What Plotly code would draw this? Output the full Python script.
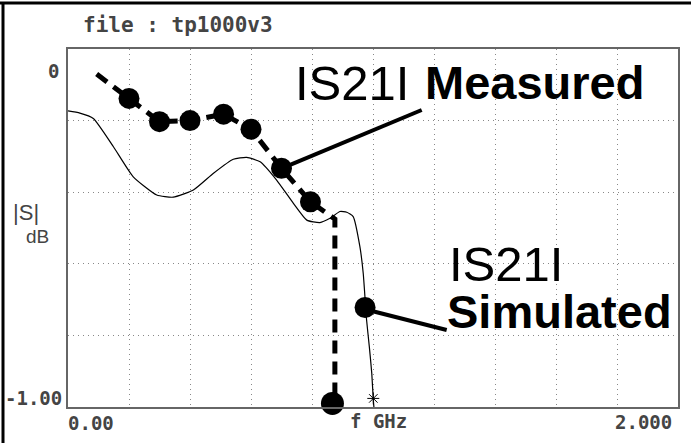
import plotly.graph_objects as go

# ---- data ----
meas_f = [0.094, 0.200, 0.300, 0.400, 0.510, 0.600, 0.700, 0.795, 0.875, 0.875, 0.867]
meas_db = [-0.070, -0.138, -0.203, -0.200, -0.182, -0.224, -0.333, -0.427, -0.475, -0.985, -0.990]
meas_marker = [0, 21, 21, 21, 21, 21, 21, 21, 0, 0, 23]

sim_f = [0.000, 0.039, 0.083, 0.149, 0.214, 0.291, 0.345, 0.411, 0.477, 0.542, 0.586,
         0.630, 0.684, 0.739, 0.783, 0.826, 0.859, 0.892, 0.914, 0.935, 0.957, 0.968,
         0.979, 0.988, 0.996, 1.001, 1.003]
sim_db = [-0.173, -0.179, -0.194, -0.273, -0.357, -0.408, -0.414, -0.394, -0.347, -0.308, -0.303,
          -0.315, -0.366, -0.431, -0.478, -0.485, -0.473, -0.454, -0.456, -0.468, -0.552, -0.627,
          -0.757, -0.832, -0.906, -0.980, -1.000]

sim_marker_f = [0.974]
sim_marker_db = [-0.722]
end_marker_f = [1.001]
end_marker_db = [-0.976]

x_ticks = [i * 0.2 for i in range(11)]
y_ticks = [-1.0 + i * 0.2 for i in range(6)]

# ---- layout helpers (pixel -> paper) ----
L, R, T, B = 68, 678, 49, 407
def px(x):
    return (x - L) / (R - L)
def py(y):
    return (B - y) / (B - T)

fig = go.Figure()
fig.add_trace(go.Scatter(
    x=sim_f, y=sim_db, mode="lines",
    line=dict(color="black", width=1.2, shape="spline", smoothing=0.5),
    hoverinfo="skip", showlegend=False))
fig.add_trace(go.Scatter(
    x=meas_f, y=meas_db, mode="lines+markers",
    line=dict(color="black", width=5, dash="13px,8px"),
    marker=dict(color="black", size=meas_marker, opacity=1, line=dict(width=0)),
    cliponaxis=False, showlegend=False))
fig.add_trace(go.Scatter(
    x=sim_marker_f, y=sim_marker_db, mode="markers",
    marker=dict(color="black", size=21, line=dict(width=0)), showlegend=False))
fig.add_trace(go.Scatter(
    x=end_marker_f, y=end_marker_db, mode="markers",
    marker=dict(color="black", size=10, symbol="asterisk-open", line=dict(width=1, color="#333")),
    showlegend=False))

axis_common = dict(showticklabels=False, showline=True, mirror=True, linecolor="#666",
                   linewidth=1.5, zeroline=False, showgrid=True, gridcolor="#888",
                   griddash="1px,4px", gridwidth=1, ticks="")
fig.update_xaxes(range=[0, 2], tickvals=x_ticks, **axis_common)
fig.update_yaxes(range=[-1, 0], tickvals=y_ticks, **axis_common)

ann = []
def text(x, y, t, size, family, color="#444", xanchor="center", bold=False, height=None):
    a = dict(x=px(x), y=py(y), xref="paper", yref="paper", text=(f"<b>{t}</b>" if bold else t),
             showarrow=False, xanchor=xanchor, yanchor="middle",
             font=dict(size=size, family=family, color=color))
    if height:
        a["height"] = height
    ann.append(a)

text(178, 25, "file : tp1000v3", 21, "DejaVu Sans Mono", bold=True)
text(53, 71, "0", 19, "DejaVu Sans Mono", bold=True)
text(33, 398, "-1.00", 19, "DejaVu Sans Mono", bold=True)
text(91, 423, "0.00", 19, "DejaVu Sans Mono", bold=True)
text(378, 421, "f GHz", 19, "DejaVu Sans Mono", bold=True)
text(643, 422, "2.000", 19, "DejaVu Sans Mono", bold=True)
text(26, 212, "|S|", 22, "Liberation Sans")
text(37, 236, "dB", 19, "Liberation Sans")

text(293, 83, "IS21I", 49, "Liberation Sans", color="black", xanchor="left")
text(423, 83, "Measured", 47, "Liberation Sans", color="black", xanchor="left", bold=True)
text(447, 264, "IS21I", 49, "Liberation Sans", color="black", xanchor="left", height=44)
text(445, 311, "Simulated", 47, "Liberation Sans", color="black", xanchor="left", bold=True, height=44)
fig.update_layout(annotations=ann)

shapes = [
    dict(type="line", xref="paper", yref="paper", x0=px(281.7), y0=py(168.3), x1=px(421.7), y1=py(110),
         line=dict(color="black", width=4)),
    dict(type="line", xref="paper", yref="paper", x0=px(365), y0=py(309.3), x1=px(446.7), y1=py(330),
         line=dict(color="black", width=4)),
    dict(type="line", xref="paper", yref="paper", x0=px(0), y0=py(3), x1=px(691), y1=py(3),
         line=dict(color="black", width=3)),
    dict(type="line", xref="paper", yref="paper", x0=px(3), y0=py(3), x1=px(3), y1=py(443),
         line=dict(color="black", width=3)),
]
fig.update_layout(shapes=shapes)

fig.update_layout(width=691, height=443, margin=dict(l=L, r=691 - R, t=T, b=443 - B),
                  paper_bgcolor="white", plot_bgcolor="white", hovermode=False)

fig.write_html("out.html", config={"displayModeBar": False},
               post_script="document.body.style.margin='0';")
